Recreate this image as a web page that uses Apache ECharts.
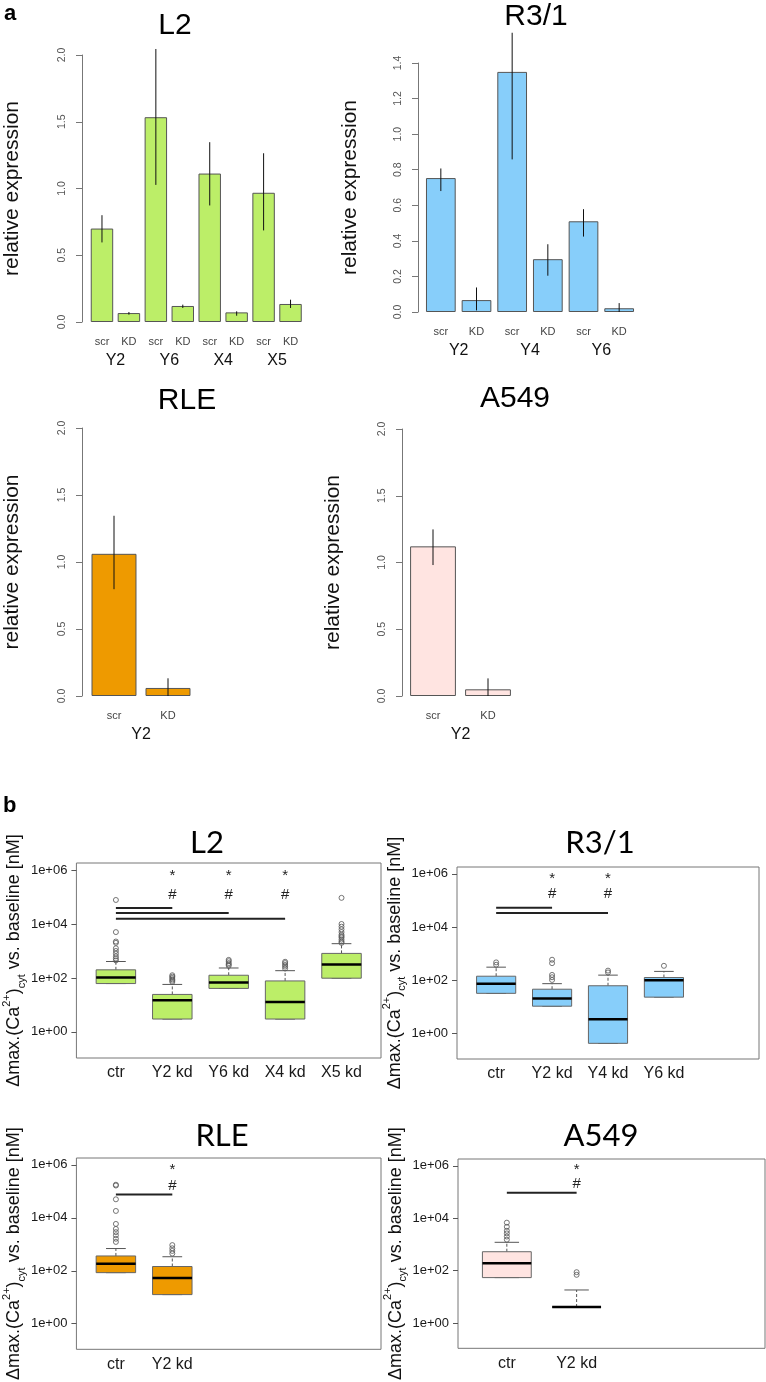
<!DOCTYPE html>
<html><head><meta charset="utf-8">
<script src="https://cdn.jsdelivr.net/npm/echarts@6/dist/echarts.min.js"></script>
<style>html,body{margin:0;padding:0;background:#fff}#c{width:766px;height:1382px}</style>
</head><body><div id="c"></div>
<script>
// ================= DATA =================
// ---- panel a : relative expression (bars with error bars) ----
const aL2Sub = ['scr','KD','scr','KD','scr','KD','scr','KD'];
const aL2Groups = ['Y2','Y6','X4','X5'];
const aL2Mean = [0.70, 0.067, 1.534, 0.12, 1.112, 0.072, 0.968, 0.135];
const aL2Lo   = [0.596, 0.055, 1.027, 0.105, 0.873, 0.047, 0.686, 0.105];
const aL2Hi   = [0.80, 0.075, 2.045, 0.13, 1.347, 0.08, 1.264, 0.167];

const aR31Sub = ['scr','KD','scr','KD','scr','KD'];
const aR31Groups = ['Y2','Y4','Y6'];
const aR31Mean = [0.753, 0.067, 1.35, 0.297, 0.51, 0.021];
const aR31Lo   = [0.68, 0.009, 0.858, 0.204, 0.424, 0.0];
const aR31Hi   = [0.807, 0.138, 1.57, 0.381, 0.578, 0.05];

const aRLESub = ['scr','KD'];
const aRLEGroups = ['Y2'];
const aRLEMean = [1.061, 0.06];
const aRLELo   = [0.797, 0.0];
const aRLEHi   = [1.345, 0.132];

const aA549Sub = ['scr','KD'];
const aA549Groups = ['Y2'];
const aA549Mean = [1.121, 0.05];
const aA549Lo   = [0.981, 0.0];
const aA549Hi   = [1.248, 0.132];

// ---- panel b : Δmax (Ca2+)cyt boxplots, [lower whisker, Q1, median, Q3, upper whisker] in nM ----
const bL2Cats = ['ctr','Y2 kd','Y6 kd','X4 kd','X5 kd'];
const bL2Box = [
  [62, 62, 105, 200, 407],
  [3.0, 3.0, 14.8, 24.5, 57.5],
  [41, 41, 68, 126, 234],
  [3.0, 3.0, 12.9, 77.6, 186],
  [98, 98, 316, 813, 1862]
];
const bL2Out = [
  [447, 525, 631, 794, 1000, 1259, 2000, 2239, 5012, 77600],
  [71, 79, 89, 100, 112, 126],
  [282, 316, 355, 417, 468],
  [224, 263, 302, 355, 398],
  [1995, 2239, 2630, 3162, 3548, 3981, 5012, 6310, 7943, 10000, 93000]
];
const bL2Sig = [[1, 2, 38900], [1, 3, 25700], [1, 4, 15500]];   // [from, to, level]
const bL2Marked = [2, 3, 4];
const bL2Star = 850000, bL2Hash = 117000;

const bR31Cats = ['ctr','Y2 kd','Y4 kd','Y6 kd'];
const bR31Box = [
  [32, 32, 74, 141, 309],
  [10.5, 10.5, 20.4, 45.7, 74],
  [0.42, 0.42, 3.4, 61.7, 155],
  [23, 23, 100, 126, 214]
];
const bR31Out = [
  [380, 468],
  [102, 129, 158, 437, 589],
  [195, 229],
  [347]
];
const bR31Sig = [[1, 2, 53700], [1, 3, 33900]];
const bR31Marked = [2, 3];
const bR31Star = 890000, bR31Hash = 180000;

const bRLECats = ['ctr','Y2 kd'];
const bRLEBox = [
  [85, 85, 186, 363, 692],
  [12.6, 12.6, 53.7, 145, 339]
];
const bRLEOut = [
  [1230, 1622, 2188, 2884, 3802, 5888, 18200, 50100, 166000, 178000],
  [447, 562, 708, 933]
];
const bRLESig = [[1, 2, 75900]];
const bRLEMarked = [2];
const bRLEStar = 910000, bRLEHash = 155000;

const bA549Cats = ['ctr','Y2 kd'];
const bA549Box = [
  [54, 54, 191, 525, 1202],
  [4.07, 4.07, 4.07, 4.07, 18.2]
];
const bA549Out = [
  [1514, 1995, 2630, 3311, 4677, 6761],
  [69, 87]
];
const bA549Sig = [[1, 2, 93300]];
const bA549Marked = [2];
const bA549Star = 1000000, bA549Hash = 200000;

const logTicks = [1, 1e2, 1e4, 1e6];

// ================= BUILD =================
const FONT = '"Liberation Sans", Arial, sans-serif';
const option = {animation: false, backgroundColor: '#fff', grid: [], xAxis: [], yAxis: [], series: [], graphic: []};

function errRender(params, api) {
  const a = api.coord([api.value(0), api.value(1)]);
  const b = api.coord([api.value(0), api.value(2)]);
  return {type: 'line', shape: {x1: a[0], y1: a[1], x2: b[0], y2: b[1]}, style: {stroke: '#111', lineWidth: 1}};
}

function addBarPanel(p) {
  const g = option.grid.length;
  option.grid.push({left: p.left, top: p.top, width: p.width, height: p.height});
  const xi = option.xAxis.length;
  option.xAxis.push({gridIndex: g, type: 'category', data: p.sub, axisLine: {show: false}, axisTick: {show: false},
    axisLabel: {fontSize: 11, color: '#444', margin: 14, fontFamily: FONT}});
  option.xAxis.push({gridIndex: g, type: 'category', data: p.groups, position: 'bottom', axisLine: {show: false}, axisTick: {show: false},
    axisLabel: {fontSize: 16, color: '#111', margin: 31, fontFamily: FONT}});
  const yi = option.yAxis.length;
  option.yAxis.push({gridIndex: g, type: 'value', min: 0, max: p.max, interval: p.interval, offset: p.offset,
    axisLine: {show: true, lineStyle: {color: '#777', width: 1}},
    axisTick: {show: true, inside: false, length: 6, lineStyle: {color: '#777'}},
    splitLine: {show: false},
    axisLabel: {rotate: 90, fontSize: 10.5, color: '#555', margin: 14, fontFamily: FONT, formatter: v => v.toFixed(1)},
    name: 'relative expression', nameLocation: 'middle', nameRotate: 90, nameGap: p.nameGap,
    nameTextStyle: {fontSize: 21, color: '#111', fontFamily: FONT}});
  option.series.push({type: 'bar', xAxisIndex: xi, yAxisIndex: yi, data: p.mean, barWidth: '83.3%',
    itemStyle: {color: p.color, borderColor: '#555', borderWidth: 1}});
  option.series.push({type: 'custom', xAxisIndex: xi, yAxisIndex: yi, clip: false, z: 5,
    encode: {x: 0, y: [1, 2]},
    data: p.mean.map((m, i) => [i, p.lo[i], p.hi[i]]), renderItem: errRender});
}

function boxRenderer(color) {
  return function (params, api) {
    const x = api.value(0);
    const v = [1, 2, 3, 4, 5].map(i => api.value(i));
    const y = v.map(val => api.coord([x, val])[1]);
    const cx = api.coord([x, v[2]])[0];
    const hw = (api.coord([x + 0.35, v[2]])[0] - api.coord([x - 0.35, v[2]])[0]) / 2;
    const cw = hw / 2;
    const wStyle = {stroke: '#555', lineWidth: 1, lineDash: [3, 2]};
    const cStyle = {stroke: '#555', lineWidth: 1};
    return {type: 'group', children: [
      {type: 'line', shape: {x1: cx, y1: y[3], x2: cx, y2: y[4]}, style: wStyle},
      {type: 'line', shape: {x1: cx, y1: y[0], x2: cx, y2: y[1]}, style: wStyle},
      {type: 'line', shape: {x1: cx - cw, y1: y[4], x2: cx + cw, y2: y[4]}, style: cStyle},
      {type: 'line', shape: {x1: cx - cw, y1: y[0], x2: cx + cw, y2: y[0]}, style: cStyle},
      {type: 'rect', shape: {x: cx - hw, y: y[3], width: 2 * hw, height: y[1] - y[3]}, style: {fill: color, stroke: '#666', lineWidth: 1}},
      {type: 'line', shape: {x1: cx - hw, y1: y[2], x2: cx + hw, y2: y[2]}, style: {stroke: '#000', lineWidth: 2.5}}
    ]};
  };
}

function sigRender(params, api) {
  const a = api.coord([api.value(0), api.value(2)]);
  const b = api.coord([api.value(1), api.value(2)]);
  return {type: 'line', shape: {x1: a[0], y1: a[1], x2: b[0], y2: b[1]}, style: {stroke: '#222', lineWidth: 2}};
}

function markRender(params, api) {
  const p = api.coord([api.value(0), api.value(1)]);
  const isStar = api.value(2) === 0;
  return {type: 'text', x: p[0], y: p[1] + (isStar ? 4 : 0),
    style: {text: isStar ? '*' : '#', fill: '#222', fontSize: isStar ? 15 : 15, fontFamily: FONT, align: 'center', verticalAlign: 'middle'}};
}

function addBoxPanel(p) {
  const g = option.grid.length;
  option.grid.push({left: p.left, top: p.top, width: p.width, height: p.height, show: true, borderColor: '#777', borderWidth: 1});
  const xi = option.xAxis.length;
  option.xAxis.push({gridIndex: g, type: 'value', min: 0.3, max: p.xmax,
    axisLine: {show: false}, axisTick: {show: false}, splitLine: {show: false},
    axisLabel: {customValues: p.cats.map((c, i) => i + 1), formatter: v => p.cats[Math.round(v) - 1] || '',
      fontSize: 16, color: '#1a1a1a', margin: 7, fontFamily: FONT}});
  const yi = option.yAxis.length;
  option.yAxis.push({gridIndex: g, type: 'log', logBase: 10, min: 0.108, max: 1.82e6,
    axisLine: {show: false}, splitLine: {show: false},
    axisTick: {show: true, customValues: logTicks, length: 5, lineStyle: {color: '#555'}},
    axisLabel: {customValues: logTicks, formatter: v => '1e+0' + Math.round(Math.log10(v)), fontSize: 13, color: '#1a1a1a', margin: 9, fontFamily: FONT},
    name: '{m|Δmax.(Ca}{sup|2+}{m|)}{sub|cyt}{m| vs. baseline [nM]}',
    nameLocation: 'middle', nameRotate: 90, nameGap: p.nameGap,
    nameTextStyle: {fontFamily: FONT, color: '#111', rich: {
      m: {fontSize: 18, fontFamily: FONT, color: '#111', lineHeight: 26},
      sup: {fontSize: 11, fontFamily: FONT, color: '#111', verticalAlign: 'top', lineHeight: 26},
      sub: {fontSize: 11, fontFamily: FONT, color: '#111', verticalAlign: 'bottom', lineHeight: 26}}}});
  option.series.push({type: 'custom', xAxisIndex: xi, yAxisIndex: yi, encode: {x: 0, y: [1, 2, 3, 4, 5]},
    data: p.box.map((b, i) => [i + 1].concat(b)), renderItem: boxRenderer(p.color), z: 2});
  option.series.push({type: 'scatter', xAxisIndex: xi, yAxisIndex: yi, symbol: 'circle', symbolSize: 5, z: 3,
    itemStyle: {color: 'rgba(0,0,0,0)', borderColor: '#555', borderWidth: 1},
    data: p.out.flatMap((arr, i) => arr.map(v => [i + 1, v]))});
  option.series.push({type: 'custom', xAxisIndex: xi, yAxisIndex: yi, encode: {x: [0, 1], y: 2}, data: p.sig, renderItem: sigRender, z: 4});
  option.series.push({type: 'custom', xAxisIndex: xi, yAxisIndex: yi, encode: {x: 0, y: 1}, clip: false, z: 4,
    data: p.marked.flatMap(c => [[c, p.star, 0], [c, p.hash, 1]]), renderItem: markRender});
}

addBarPanel({sub: aL2Sub, groups: aL2Groups, mean: aL2Mean, lo: aL2Lo, hi: aL2Hi, color: '#BCEE68',
  left: 88.5, top: 55, width: 215.5, height: 267, max: 2, interval: 0.5, offset: 6.5, nameGap: 59});
addBarPanel({sub: aR31Sub, groups: aR31Groups, mean: aR31Mean, lo: aR31Lo, hi: aR31Hi, color: '#87CEFA',
  left: 423, top: 63, width: 214, height: 249, max: 1.4, interval: 0.2, offset: 5, nameGap: 57});
addBarPanel({sub: aRLESub, groups: aRLEGroups, mean: aRLEMean, lo: aRLELo, hi: aRLEHi, color: '#EE9A00',
  left: 87, top: 428, width: 108, height: 268, max: 2, interval: 0.5, offset: 5, nameGap: 59});
addBarPanel({sub: aA549Sub, groups: aA549Groups, mean: aA549Mean, lo: aA549Lo, hi: aA549Hi, color: '#FFE4E1',
  left: 405.5, top: 429, width: 110, height: 267, max: 2, interval: 0.5, offset: 3.5, nameGap: 58});

addBoxPanel({cats: bL2Cats, box: bL2Box, out: bL2Out, sig: bL2Sig, marked: bL2Marked, star: bL2Star, hash: bL2Hash,
  color: '#BCEE68', left: 74, top: 863, width: 307, height: 195, xmax: 5.7, nameGap: 42});
addBoxPanel({cats: bR31Cats, box: bR31Box, out: bR31Out, sig: bR31Sig, marked: bR31Marked, star: bR31Star, hash: bR31Hash,
  color: '#87CEFA', left: 457, top: 867, width: 302, height: 192, xmax: 5.7, nameGap: 41});
addBoxPanel({cats: bRLECats, box: bRLEBox, out: bRLEOut, sig: bRLESig, marked: bRLEMarked, star: bRLEStar, hash: bRLEHash,
  color: '#EE9A00', left: 74, top: 1158, width: 307, height: 195, xmax: 5.7, nameGap: 42});
addBoxPanel({cats: bA549Cats, box: bA549Box, out: bA549Out, sig: bA549Sig, marked: bA549Marked, star: bA549Star, hash: bA549Hash,
  color: '#FFE4E1', left: 458, top: 1159, width: 307, height: 196, xmax: 4.7, nameGap: 45});

function txt(text, x, y, size, family, weight, align) {
  option.graphic.push({type: 'text', x: x, y: y, silent: true,
    style: {text: text, fontSize: size, fontFamily: family, fontWeight: weight || 'normal', fill: '#000',
      align: align || 'center', textAlign: align || 'center', verticalAlign: 'middle', textVerticalAlign: 'middle'}});
}
const TITLE_B = 'Lato, "Open Sans", sans-serif';
txt('a', 4, 14, 22, FONT, 'bold', 'left');
txt('b', 3, 806, 22, FONT, 'bold', 'left');
txt('L2', 175, 26, 30, FONT);
txt('R3/1', 536, 17, 30, FONT);
txt('RLE', 187, 401, 30, FONT);
txt('A549', 515, 399, 30, FONT);
txt('L2', 207, 843, 31, TITLE_B);
txt('R3/1', 600, 843, 31, TITLE_B);
txt('RLE', 222, 1136, 31, TITLE_B);
txt('A549', 601, 1136, 31, TITLE_B);

const chart = echarts.init(document.getElementById('c'), null, {renderer: 'canvas'});
chart.setOption(option);
</script>
</body></html>
